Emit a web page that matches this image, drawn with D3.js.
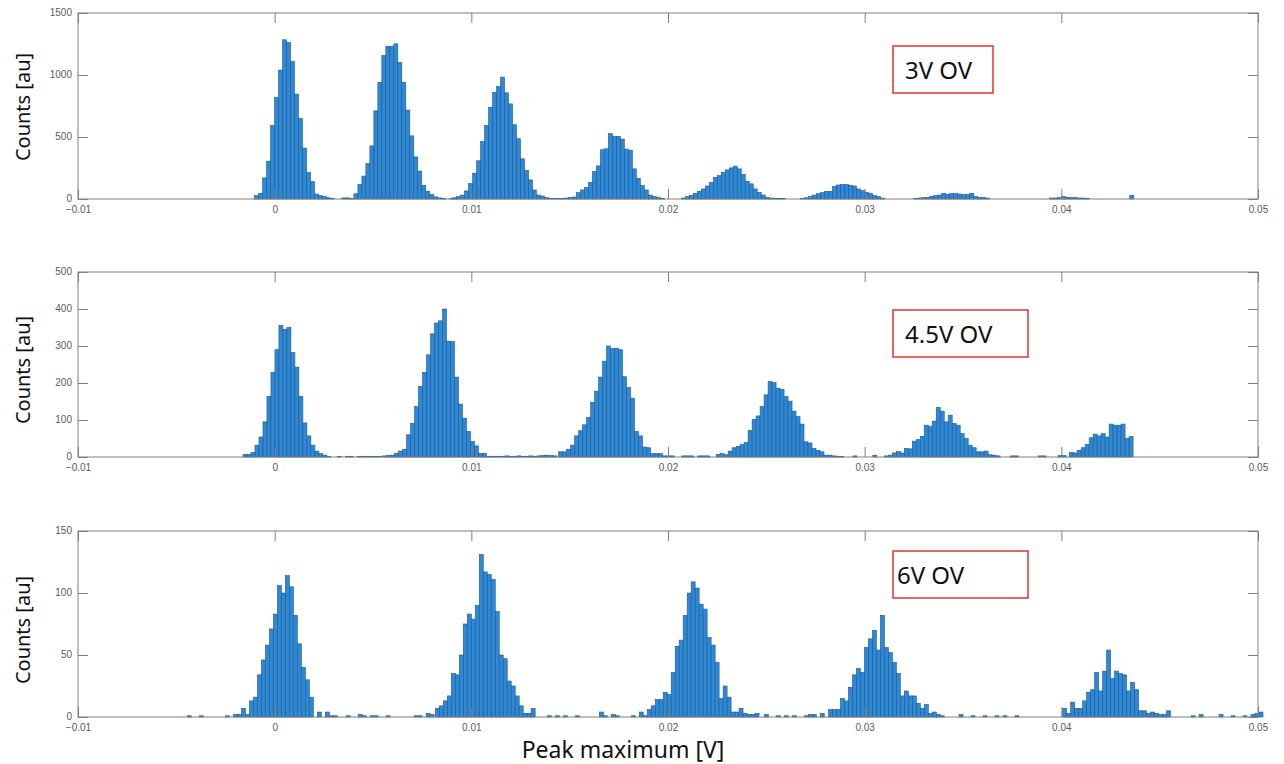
<!DOCTYPE html>
<html>
<head>
<meta charset="utf-8">
<script src="https://cdn.jsdelivr.net/npm/d3@7"></script>
<style>
  body { margin: 0; background: #fff; }
  svg { display: block; }
  .tick-label { font-family: "Liberation Sans", Arial, sans-serif; font-size: 10px; fill: #5a5a5a; }
  .ylab { font-family: "Noto Sans", "Open Sans", sans-serif; font-size: 20px; fill: #111; }
  .xlab { font-family: "Noto Sans", "Open Sans", sans-serif; font-size: 23px; fill: #111; }
  .note { font-family: "Noto Sans", "Open Sans", sans-serif; font-size: 24px; fill: #111; }
</style>
</head>
<body>
<div id="chart"></div>
<script>
//  Size of the picture
var chart_width     =   1284;
var chart_height    =   764;

// Histogram bin width [V] and axis ticks
var binWidth        =   0.000203;
var xTicks          =   [ -0.01, 0, 0.01, 0.02, 0.03, 0.04, 0.05 ];
var yTicks3V        =   [ 0, 500, 1000, 1500 ];
var yTicks45V       =   [ 0, 100, 200, 300, 400, 500 ];
var yTicks6V        =   [ 0, 50, 100, 150 ];
var noteLabels      =   [ "3V OV", "4.5V OV", "6V OV" ];

// Counts per bin, as runs of bins starting at "start" [V]
var counts3V = [
    { start: -0.00102, counts: [27, 46, 170, 305, 592, 819, 1040, 1284, 1262, 1108, 846, 649, 411, 214, 140, 40, 27, 19, 10, 5] },
    { start: 0.00342,  counts: [9, 9, 5, 42, 117, 185, 285, 428, 711, 941, 1157, 1232, 1232, 1251, 1100, 941, 717, 509, 339, 225, 109, 63, 36, 17, 9, 4, 0, 3, 5] },
    { start: 0.00905,  counts: [10, 19, 32, 65, 124, 208, 308, 464, 594, 740, 861, 907, 983, 856, 767, 599, 486, 324, 230, 154, 73, 32, 24, 11, 5, 4, 4, 5, 8,
                                11, 16, 51, 73, 92, 135, 221, 267, 397, 405, 527, 505, 505, 483, 402, 394, 243, 167, 108, 73, 32, 19, 11, 5] },
    { start: 0.02068,  counts: [8, 19, 30, 46, 62, 81, 105, 132, 175, 189, 216, 235, 251, 265, 243, 197, 143, 122, 81, 54, 32, 13, 8, 5, 5, 5] },
    { start: 0.02674,  counts: [5, 10, 20, 32, 43, 51, 62, 62, 100, 113, 116, 116, 111, 105, 81, 67, 54, 46, 27, 19, 8] },
    { start: 0.0325,   counts: [5, 8, 11, 13, 22, 27, 32, 46, 38, 43, 43, 40, 35, 35, 46, 19, 13, 13, 8] },
    { start: 0.0394,   counts: [8, 8, 11, 19, 13, 11, 11, 8, 8, 5] },
    { start: 0.04348,  counts: [30] }
];

var counts45V = [
    { start: -0.00161, counts: [7, 7, 12, 32, 54, 95, 164, 229, 290, 356, 345, 350, 282, 243, 164, 92, 57, 32, 16, 9, 5, 2] },
    { start: 0.0032,   counts: [1, 0, 2, 1, 0, 1, 2, 2, 1, 2, 1] },
    { start: 0.00549,  counts: [3, 4, 5, 10, 16, 21, 60, 91, 136, 191, 229, 276, 333, 362, 368, 400, 313, 312, 216, 143, 105, 69, 42, 30, 10, 10, 2, 2] },
    { start: 0.0111,   counts: [2, 2, 2, 3, 2, 2, 3, 2, 2, 3, 2, 3, 4, 5, 4, 3] },
    { start: 0.01444,  counts: [14, 14, 21, 32, 57, 71, 87, 107, 148, 178, 216, 259, 300, 293, 294, 290, 217, 188, 159, 69, 57, 27, 25, 9, 9, 9, 3, 3, 3] },
    { start: 0.0207,   counts: [3, 3, 3, 0, 3, 3, 3] },
    { start: 0.02245,  counts: [7, 9, 6, 16, 25, 29, 34, 39, 72, 102, 111, 136, 168, 204, 201, 186, 183, 163, 151, 124, 109, 89, 41, 38, 23, 18, 14, 5, 5, 3, 2, 2] },
    { start: 0.0294,   counts: [3, 0, 0, 0, 0, 5] },
    { start: 0.0310,   counts: [3, 5, 11, 15, 11, 23, 22, 43, 47, 56, 86, 82, 97, 134, 124, 95, 113, 91, 86, 63, 50, 32, 25, 14, 14, 16, 6, 5, 3] },
    { start: 0.0374,   counts: [3, 3, 0, 0, 0, 0, 0, 3, 3, 0, 0, 0, 4, 4] },
    { start: 0.0404,   counts: [12, 11, 18, 25, 34, 52, 62, 57, 63, 54, 89, 86, 86, 89, 50, 56] }
];

var counts6V = [
    { start: -0.00444, counts: [1, 0, 0, 1] },
    { start: -0.0025,  counts: [1, 0, 2, 2, 7, 2, 13, 16, 34, 46, 58, 71, 83, 106, 100, 114, 105, 82, 59, 40, 30, 16, 0, 4, 0, 4, 1, 1] },
    { start: 0.00364,  counts: [1, 0, 0, 2, 1, 0, 1, 1, 0, 0, 1, 0, 0, 0, 0, 0, 0, 1, 1, 0, 3, 2] },
    { start: 0.00817,  counts: [7, 9, 13, 17, 35, 34, 50, 75, 83, 79, 90, 131, 117, 115, 111, 85, 50, 47, 29, 25, 17, 9, 3, 3, 7] },
    { start: 0.01387,  counts: [1, 0, 1, 0, 1, 0, 0, 1, 0, 0, 0, 0, 0, 4, 1, 0, 2, 1, 0, 0, 0, 1, 0, 4, 1, 6, 9, 14, 14, 20, 18, 36, 57, 62,
                                82, 100, 109, 104, 91, 87, 64, 58, 44, 15, 25, 16, 4, 4, 7, 3, 2, 2, 3] },
    { start: 0.0249,   counts: [2, 0, 0, 1, 0, 1, 0, 1, 0, 0, 1, 2, 2, 0, 3, 0] },
    { start: 0.02816,  counts: [6, 6, 6, 15, 13, 24, 34, 39, 36, 56, 63, 70, 54, 82, 56, 52, 44, 35, 17, 21, 17, 17, 11, 7, 10, 3, 4, 2, 1] },
    { start: 0.0348,   counts: [2, 0, 0, 1, 0, 0, 1, 0, 0, 1, 0, 1, 0, 0, 1] },
    { start: 0.04007,  counts: [7, 3, 12, 7, 7, 13, 20, 22, 36, 21, 37, 54, 31, 37, 35, 34, 21, 28, 22, 5, 5, 3, 4, 3, 2, 2, 5] },
    { start: 0.0466,   counts: [1, 0, 2, 0, 0, 0, 0, 2, 0, 0, 1, 0, 0, 1, 0, 2, 3, 4] }
];


// Layout of the three stacked axes
var plot_left       =   78;
var plot_right      =   1258;
var tick_len        =   10;

var panels = [
    { top: 13,  bottom: 199, yMax: 1500, yTicks: yTicks3V,  runs: counts3V,  label: noteLabels[0],
      labelY: 107, box: [893, 46, 100, 47], textX: 905 },
    { top: 272, bottom: 457, yMax: 500,  yTicks: yTicks45V, runs: counts45V, label: noteLabels[1],
      labelY: 370, box: [893, 310, 135, 47], textX: 905 },
    { top: 531, bottom: 717, yMax: 150,  yTicks: yTicks6V,  runs: counts6V,  label: noteLabels[2],
      labelY: 630, box: [893, 551, 135, 47], textX: 897 }
];


// Create SVG
var svg             =   d3.select("#chart")
    .append("svg")
    .attr("width", chart_width)
    .attr("height", chart_height);

var x               =   d3.scaleLinear()
    .domain([ -0.01, 0.05 ])
    .range([ plot_left, plot_right ]);

panels.forEach(function(p){
    var y = d3.scaleLinear()
        .domain([ 0, p.yMax ])
        .range([ p.bottom, p.top ]);

    // flatten the runs into single bins
    var bins = [];
    p.runs.forEach(function(r){
        r.counts.forEach(function(c, i){
            if( c > 0 ){
                bins.push({ x0: r.start + i * binWidth, x1: r.start + (i + 1) * binWidth, n: c });
            }
        });
    });

    var g = svg.append("g");

    g.selectAll("rect.bar")
        .data(bins)
        .enter()
        .append("rect")
        .attr("class", "bar")
        .attr("x", function(d){ return x(d.x0); })
        .attr("width", function(d){ return x(d.x1) - x(d.x0); })
        .attr("y", function(d){ return y(d.n); })
        .attr("height", function(d){ return y(0) - y(d.n); })
        .attr("fill", "#2f88d4")
        .attr("stroke", "#1c5890")
        .attr("stroke-width", 0.6);

    // Box and inward ticks (bottom, top, left, right)
    g.append("g")
        .attr("transform", "translate(0," + p.bottom + ")")
        .call(d3.axisBottom(x).tickValues(xTicks).tickSizeInner(-tick_len).tickSizeOuter(0)
            .tickFormat(function(d){ return d === 0 ? "0" : d3.format(".2f")(d).replace(/0$/, ""); }))
        .call(function(a){
            a.select(".domain").remove();
            a.selectAll("line").attr("stroke", "#808080");
            a.selectAll("text").attr("class", "tick-label").attr("y", 7).attr("dy", "0.71em");
        });

    g.append("g")
        .attr("transform", "translate(0," + p.top + ")")
        .call(d3.axisTop(x).tickValues(xTicks).tickSizeInner(-tick_len).tickSizeOuter(0).tickFormat(""))
        .call(function(a){
            a.select(".domain").remove();
            a.selectAll("line").attr("stroke", "#808080");
        });

    g.append("g")
        .attr("transform", "translate(" + plot_left + ",0)")
        .call(d3.axisLeft(y).tickValues(p.yTicks).tickSizeInner(-tick_len).tickSizeOuter(0).tickFormat(d3.format("d")))
        .call(function(a){
            a.select(".domain").remove();
            a.selectAll("line").attr("stroke", "#808080");
            a.selectAll("text").attr("class", "tick-label").attr("x", -6).attr("dy", "0.2em");
        });

    g.append("g")
        .attr("transform", "translate(" + plot_right + ",0)")
        .call(d3.axisRight(y).tickValues(p.yTicks).tickSizeInner(-tick_len).tickSizeOuter(0).tickFormat(""))
        .call(function(a){
            a.select(".domain").remove();
            a.selectAll("line").attr("stroke", "#808080");
        });

    g.append("rect")
        .attr("x", plot_left)
        .attr("y", p.top)
        .attr("width", plot_right - plot_left)
        .attr("height", p.bottom - p.top)
        .attr("fill", "none")
        .attr("stroke", "#808080")
        .attr("stroke-width", 1);

    // y label
    svg.append("text")
        .attr("class", "ylab")
        .attr("transform", "translate(30," + p.labelY + ") rotate(-90)")
        .attr("text-anchor", "middle")
        .text("Counts [au]");

    // annotation box
    svg.append("rect")
        .attr("x", p.box[0])
        .attr("y", p.box[1])
        .attr("width", p.box[2])
        .attr("height", p.box[3])
        .attr("fill", "#fff")
        .attr("stroke", "#e0362c")
        .attr("stroke-width", 1.5);

    svg.append("text")
        .attr("class", "note")
        .attr("x", p.textX)
        .attr("y", p.box[1] + 33)
        .text(p.label);
});

svg.append("text")
    .attr("class", "xlab")
    .attr("x", 623)
    .attr("y", 758)
    .attr("text-anchor", "middle")
    .text("Peak maximum [V]");
</script>
</body>
</html>
